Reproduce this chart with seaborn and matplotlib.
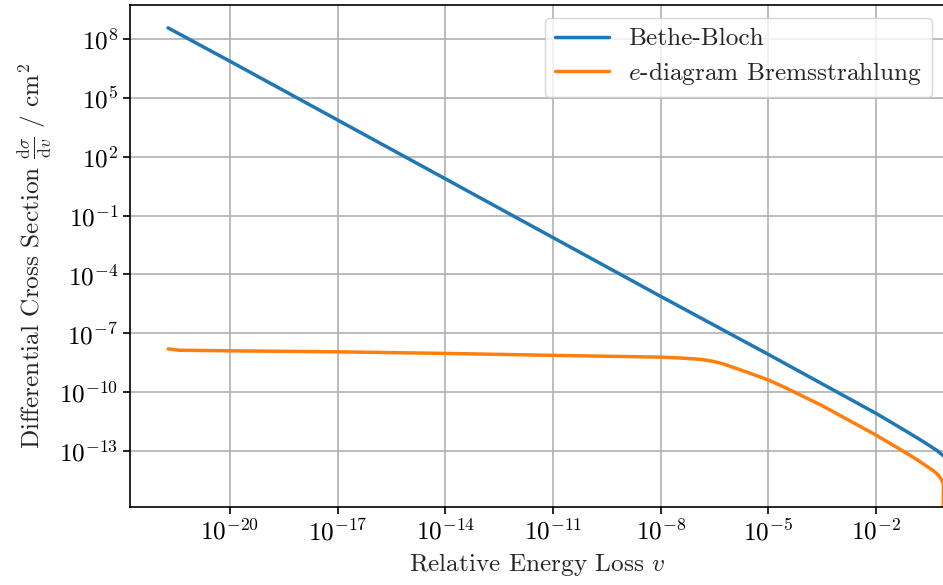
import numpy as np
import pandas as pd
import matplotlib
matplotlib.use("Agg")
import matplotlib.pyplot as plt
import matplotlib.ticker as mticker
import seaborn as sns

# ---- data ----
bb_v = [1.9e-22, 1e-20, 1e-17, 1e-14, 1e-11, 1e-8, 1e-5, 1e-2, 0.0316, 0.1, 0.178, 0.316, 0.501, 0.767]
bb_sigma = [3.80e8, 7.59e6, 7.59e3, 7.59, 7.59e-3, 7.59e-6, 8.3e-9, 8.1e-12, 2.34e-12, 6.6e-13,
            3.47e-13, 1.78e-13, 1.02e-13, 5.4e-14]

br_v = [1.9e-22, 4.0e-22, 1e-20, 1e-17, 1e-14, 1e-11, 1e-8, 3.16e-8, 1e-7, 1.78e-7, 3.16e-7, 5.62e-7,
        1e-6, 3.16e-6, 1e-5, 3.16e-5, 1e-4, 3.16e-4, 1e-3, 3.16e-3, 1e-2, 0.0316, 0.1, 0.158,
        0.251, 0.355, 0.427, 0.501, 0.562, 0.631, 0.708, 0.75, 0.759]
br_sigma = [1.58e-8, 1.35e-8, 1.26e-8, 1.12e-8, 9.3e-9, 7.4e-9, 6.0e-9, 5.5e-9, 4.8e-9, 4.27e-9, 3.55e-9, 2.69e-9,
            1.86e-9, 8.9e-10, 4.1e-10, 1.58e-10, 5.6e-11, 2.0e-11, 6.3e-12, 2.0e-12, 6.3e-13, 1.82e-13, 5.1e-14, 3.0e-14,
            1.7e-14, 1.1e-14, 8.5e-15, 6.6e-15, 5.2e-15, 3.9e-15, 2.7e-15, 2.0e-15, 1e-30]

series_names = ["Bethe-Bloch", r"$e$-diagram Bremsstrahlung"]
series_colors = ["#1f77b4", "#ff7f0e"]

x_ticks = [1e-20, 1e-17, 1e-14, 1e-11, 1e-8, 1e-5, 1e-2]
y_ticks = [1e8, 1e5, 1e2, 1e-1, 1e-4, 1e-7, 1e-10, 1e-13]

df = pd.concat([
    pd.DataFrame({"v": bb_v, "sigma": bb_sigma, "series": series_names[0]}),
    pd.DataFrame({"v": br_v, "sigma": br_sigma, "series": series_names[1]}),
], ignore_index=True)

sns.set_style("ticks")
plt.rcParams["font.family"] = ["cmr10", "DejaVu Serif"]
plt.rcParams["mathtext.fontset"] = "cm"
plt.rcParams["axes.unicode_minus"] = False
plt.rcParams["axes.formatter.use_mathtext"] = True

FS = 18.2
LW = 2.5

fig = plt.figure(figsize=(9.43, 5.85), dpi=100)
ax = fig.add_axes([0.1379, 0.1333, 0.8640, 0.8582])

sns.lineplot(data=df, x="v", y="sigma", hue="series", palette=series_colors,
             estimator=None, sort=False, linewidth=LW, ax=ax, legend=True)

ax.set_xscale("log")
ax.set_yscale("log")
ax.set_xlim(1.66e-23, 0.822)
ax.set_ylim(1.35e-16, 5.6e9)
ax.xaxis.set_major_locator(mticker.FixedLocator(x_ticks))
ax.yaxis.set_major_locator(mticker.FixedLocator(y_ticks))
ax.xaxis.set_minor_locator(mticker.NullLocator())
ax.yaxis.set_minor_locator(mticker.NullLocator())
ax.xaxis.set_major_formatter(mticker.LogFormatterSciNotation())
ax.yaxis.set_major_formatter(mticker.LogFormatterSciNotation())

ax.grid(True, color="#b0b0b0", linewidth=1.2)
ax.set_axisbelow(True)
for s in ax.spines.values():
    s.set_color("black")
    s.set_linewidth(1.2)
ax.tick_params(axis="both", which="major", direction="out", length=5, width=1.2,
               color="black", labelsize=FS, labelcolor="black")

ax.set_xlabel(r"Relative Energy Loss $v$", fontsize=FS)
ax.set_ylabel(r"Differential Cross Section $\frac{\mathrm{d}\sigma}{\mathrm{d}v}$ / $\mathrm{cm}^2$", fontsize=FS)

handles, labels = ax.get_legend_handles_labels()
leg = ax.legend(handles, labels, loc="upper right", fontsize=FS, framealpha=0.8,
                edgecolor="#cccccc", fancybox=True, borderaxespad=0.5,
                handlelength=2.13, handletextpad=0.75, labelspacing=0.38)
leg.set_title(None)
for h in leg.legend_handles:
    h.set_linewidth(LW)

fig.savefig("out.png", dpi=100)
